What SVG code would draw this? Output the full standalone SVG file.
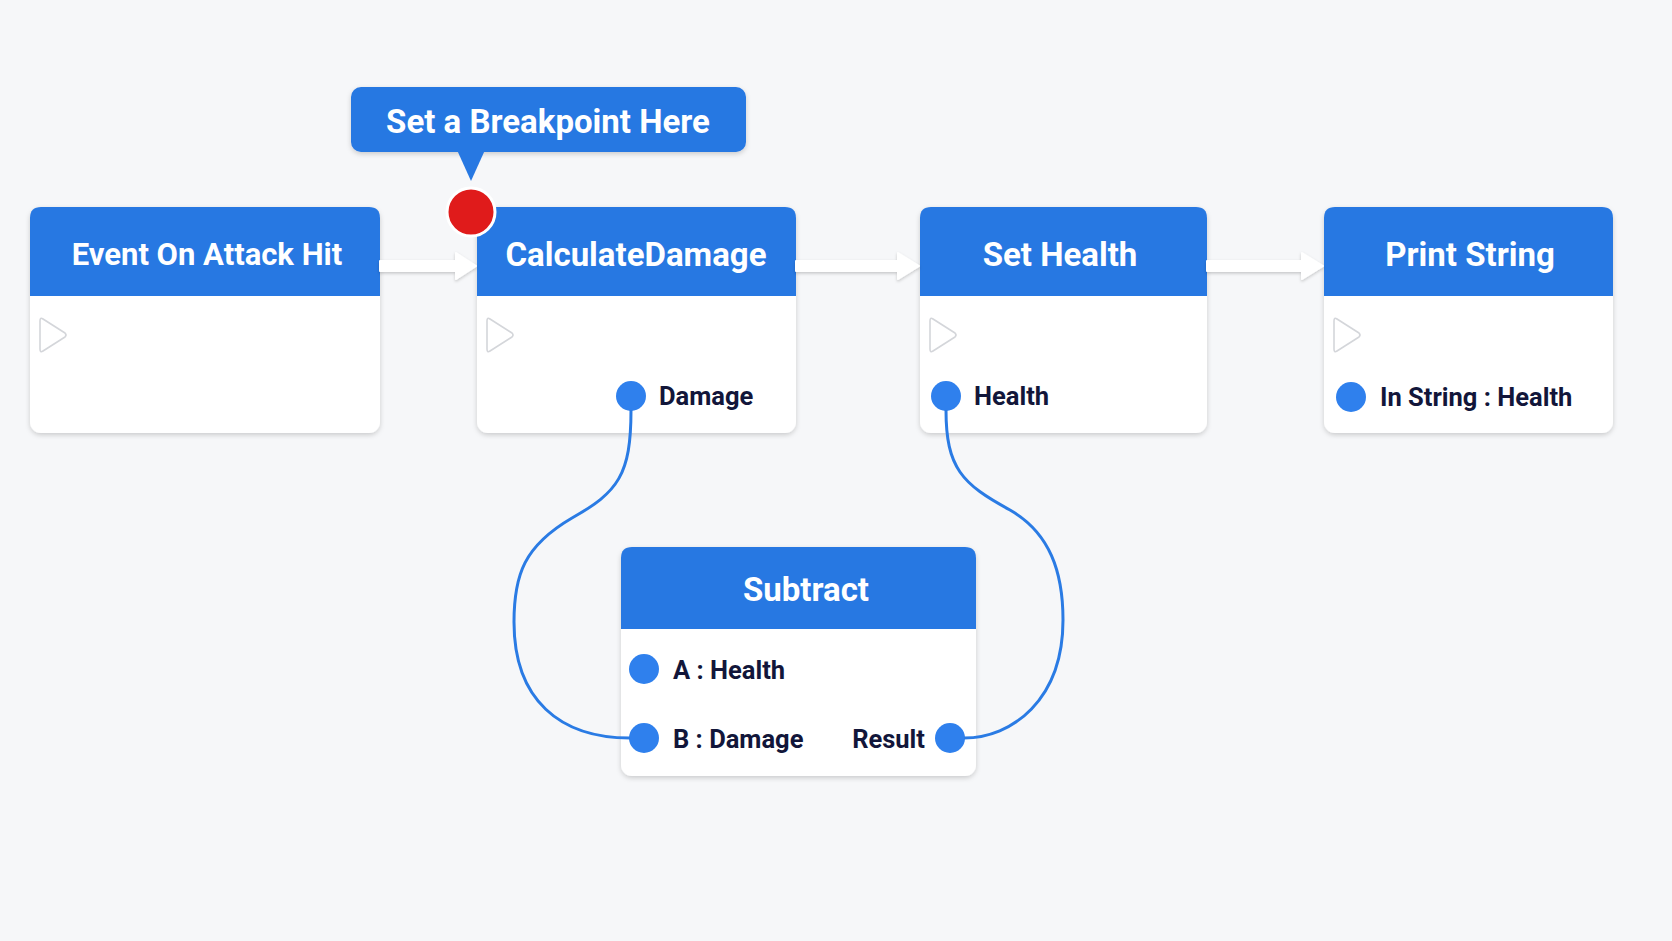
<svg xmlns="http://www.w3.org/2000/svg" width="1672" height="941" viewBox="0 0 1672 941">
<defs>
<filter id="sh" x="-10%" y="-10%" width="120%" height="130%">
<feDropShadow dx="0" dy="2" stdDeviation="2.5" flood-color="#000" flood-opacity="0.18"/>
</filter>
<filter id="ash" x="-10%" y="-50%" width="120%" height="200%">
<feDropShadow dx="0" dy="1.5" stdDeviation="1.5" flood-color="#000" flood-opacity="0.2"/>
</filter>
<style>
.body{fill:#ffffff;filter:url(#sh)}
.head{fill:#2778e2}
.title{font-family:Roboto,"Liberation Sans",sans-serif;font-weight:700;font-size:33px;fill:#ffffff;text-anchor:middle}
.pinl{font-family:Roboto,"Liberation Sans",sans-serif;font-weight:700;font-size:25.5px;fill:#12163a}
.pin{fill:#2f80ed}
.exec{fill:#ffffff;stroke:#d4d6da;stroke-width:1.6;stroke-linejoin:round}
.wire{fill:none;stroke:#2a7be4;stroke-width:3}
.arrow{fill:#ffffff;stroke:#ffffff;stroke-width:2;stroke-linejoin:round;filter:url(#ash)}
</style>
</defs>
<rect width="1672" height="941" fill="#f6f7f9"/>

<g id="node-event">
<rect class="body" x="30" y="207" width="350" height="226" rx="11"/>
<path class="head" d="M30,296 V218 Q30,207 41,207 H369 Q380,207 380,218 V296 Z"/>
<text class="title" x="207" y="265" style="font-size:31px">Event On Attack Hit</text>
<path class="exec" d="M40,321 Q40,317 43,319 L65,333 Q67,335 65,337 L43,351 Q40,353 40,349 Z"/>
</g>

<g id="node-calculate">
<rect class="body" x="477" y="207" width="319" height="226" rx="11"/>
<path class="head" d="M477,296 V218 Q477,207 488,207 H785 Q796,207 796,218 V296 Z"/>
<text class="title" x="636" y="266">CalculateDamage</text>
<path class="exec" d="M487,321 Q487,317 490,319 L512,333 Q514,335 512,337 L490,351 Q487,353 487,349 Z"/>
<circle class="pin" cx="631" cy="396" r="15"/>
<text class="pinl" x="659" y="405">Damage</text>
</g>

<g id="node-sethealth">
<rect class="body" x="920" y="207" width="287" height="226" rx="11"/>
<path class="head" d="M920,296 V218 Q920,207 931,207 H1196 Q1207,207 1207,218 V296 Z"/>
<text class="title" x="1060" y="266">Set Health</text>
<path class="exec" d="M930,321 Q930,317 933,319 L955,333 Q957,335 955,337 L933,351 Q930,353 930,349 Z"/>
<circle class="pin" cx="946" cy="396" r="15"/>
<text class="pinl" x="974" y="405">Health</text>
</g>

<g id="node-printstring">
<rect class="body" x="1324" y="207" width="289" height="226" rx="11"/>
<path class="head" d="M1324,296 V218 Q1324,207 1335,207 H1602 Q1613,207 1613,218 V296 Z"/>
<text class="title" x="1470" y="266">Print String</text>
<path class="exec" d="M1334,321 Q1334,317 1337,319 L1359,333 Q1361,335 1359,337 L1337,351 Q1334,353 1334,349 Z"/>
<circle class="pin" cx="1351" cy="397" r="15"/>
<text class="pinl" x="1380" y="406">In String : Health</text>
</g>

<g id="node-subtract">
<rect class="body" x="621" y="547" width="355" height="229" rx="11"/>
<path class="head" d="M621,629 V558 Q621,547 632,547 H965 Q976,547 976,558 V629 Z"/>
<text class="title" x="806" y="601">Subtract</text>
<circle class="pin" cx="644" cy="669" r="15"/>
<text class="pinl" x="673" y="679">A : Health</text>
<circle class="pin" cx="644" cy="738" r="15"/>
<text class="pinl" x="673" y="748">B : Damage</text>
<circle class="pin" cx="950" cy="738" r="15"/>
<text class="pinl" x="925" y="748" text-anchor="end">Result</text>
</g>

<g id="connectors">
<path class="arrow" d="M380,261 H456 V253 L476,266 L456,279 V271 H380 Z"/>
<path class="arrow" d="M796,261 H898 V253 L919,266 L898,279 V271 H796 Z"/>
<path class="arrow" d="M1207,261 H1302 V253 L1323,266 L1302,279 V271 H1207 Z"/>
<path class="wire" d="M631,410 C631,475 618,492 572,518 C524,546 514,575 514,622 C514,700 560,738 630,738"/>
<path class="wire" d="M946,410 C946,468 962,484 1010,510 C1050,533 1063,572 1063,620 C1063,700 1012,738 964,738"/>
</g>

<g id="tooltip">
<rect x="351" y="87" width="395" height="65" rx="10" fill="#2778e2" filter="url(#sh)"/>
<path d="M457,150 L485,150 L471,181 Z" fill="#2778e2"/>
<text class="title" x="548" y="133">Set a Breakpoint Here</text>
</g>

<g id="breakpoint">
<circle cx="471" cy="212" r="24" fill="#e01b1b" stroke="#ffffff" stroke-width="3"/>
</g>
</svg>
